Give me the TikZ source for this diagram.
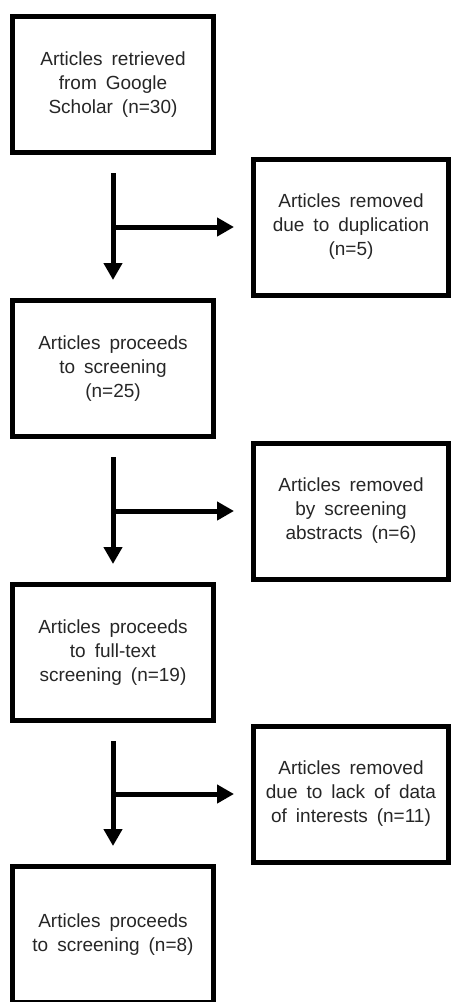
\documentclass[tikz,border=0pt]{standalone}
\usepackage{fontspec}
\setmainfont{Liberation Sans}
\usepackage{tikz}
\usetikzlibrary{
        arrows.meta,
        positioning
    }
\newcommand{\stagefont}{\fontsize{19}{24}\selectfont\spaceskip=9pt plus 1pt\relax}
\tikzset{>={Triangle[width=18pt,length=17pt]},node distance=143pt}
\tikzset{
    stage/.style={draw,line width=5pt,minimum width=201pt,minimum height=136pt,
        align=center,inner sep=0pt,text=black!85,font=\stagefont},
    removed/.style={stage,minimum width=195pt},
    flow/.style={->,line width=5pt,shorten <=18pt,shorten >=18pt}
}

\begin{document}
\begin{tikzpicture}[x=1pt,y=1pt]
                \useasboundingbox (0,0) rectangle (451,-1002);
                \clip (0,0) rectangle (451,-1002);
                \node[stage] (b1) at (113,-84.5) {Articles retrieved\\from Google\\Scholar (n=30)};
                \node[stage] (b2) [below=143pt of b1] {Articles proceeds\\to screening\\(n=25)};
                \node[stage] (b3) [below=143pt of b2] {Articles proceeds\\to full-text\\screening (n=19)};
                \node[stage] (b4) [below=141pt of b3] {Articles proceeds\\to screening (n=8)};
                \node[removed] (r1) [right=35pt of b1, yshift=-142.5pt] {Articles removed\\due to duplication\\(n=5)};
                \node[removed] (r2) [right=35pt of b2, yshift=-142.5pt] {Articles removed\\by screening\\abstracts (n=6)};
                \node[removed] (r3) [right=35pt of b3, yshift=-141.5pt] {Articles removed\\due to lack of data\\of interests (n=11)};
                \coordinate (j1) at (b1 |- r1);
                \coordinate (j2) at (b2 |- r2);
                \coordinate (j3) at (b3 |- r3);
                \path[flow]
                    (b1) edge (b2)
                    (b2) edge (b3)
                    (b3) edge (b4);
                \path[flow,shorten <=0pt,shorten >=17pt]
                    (j1) edge (r1)
                    (j2) edge (r2)
                    (j3) edge (r3);
            \end{tikzpicture}
\end{document}
